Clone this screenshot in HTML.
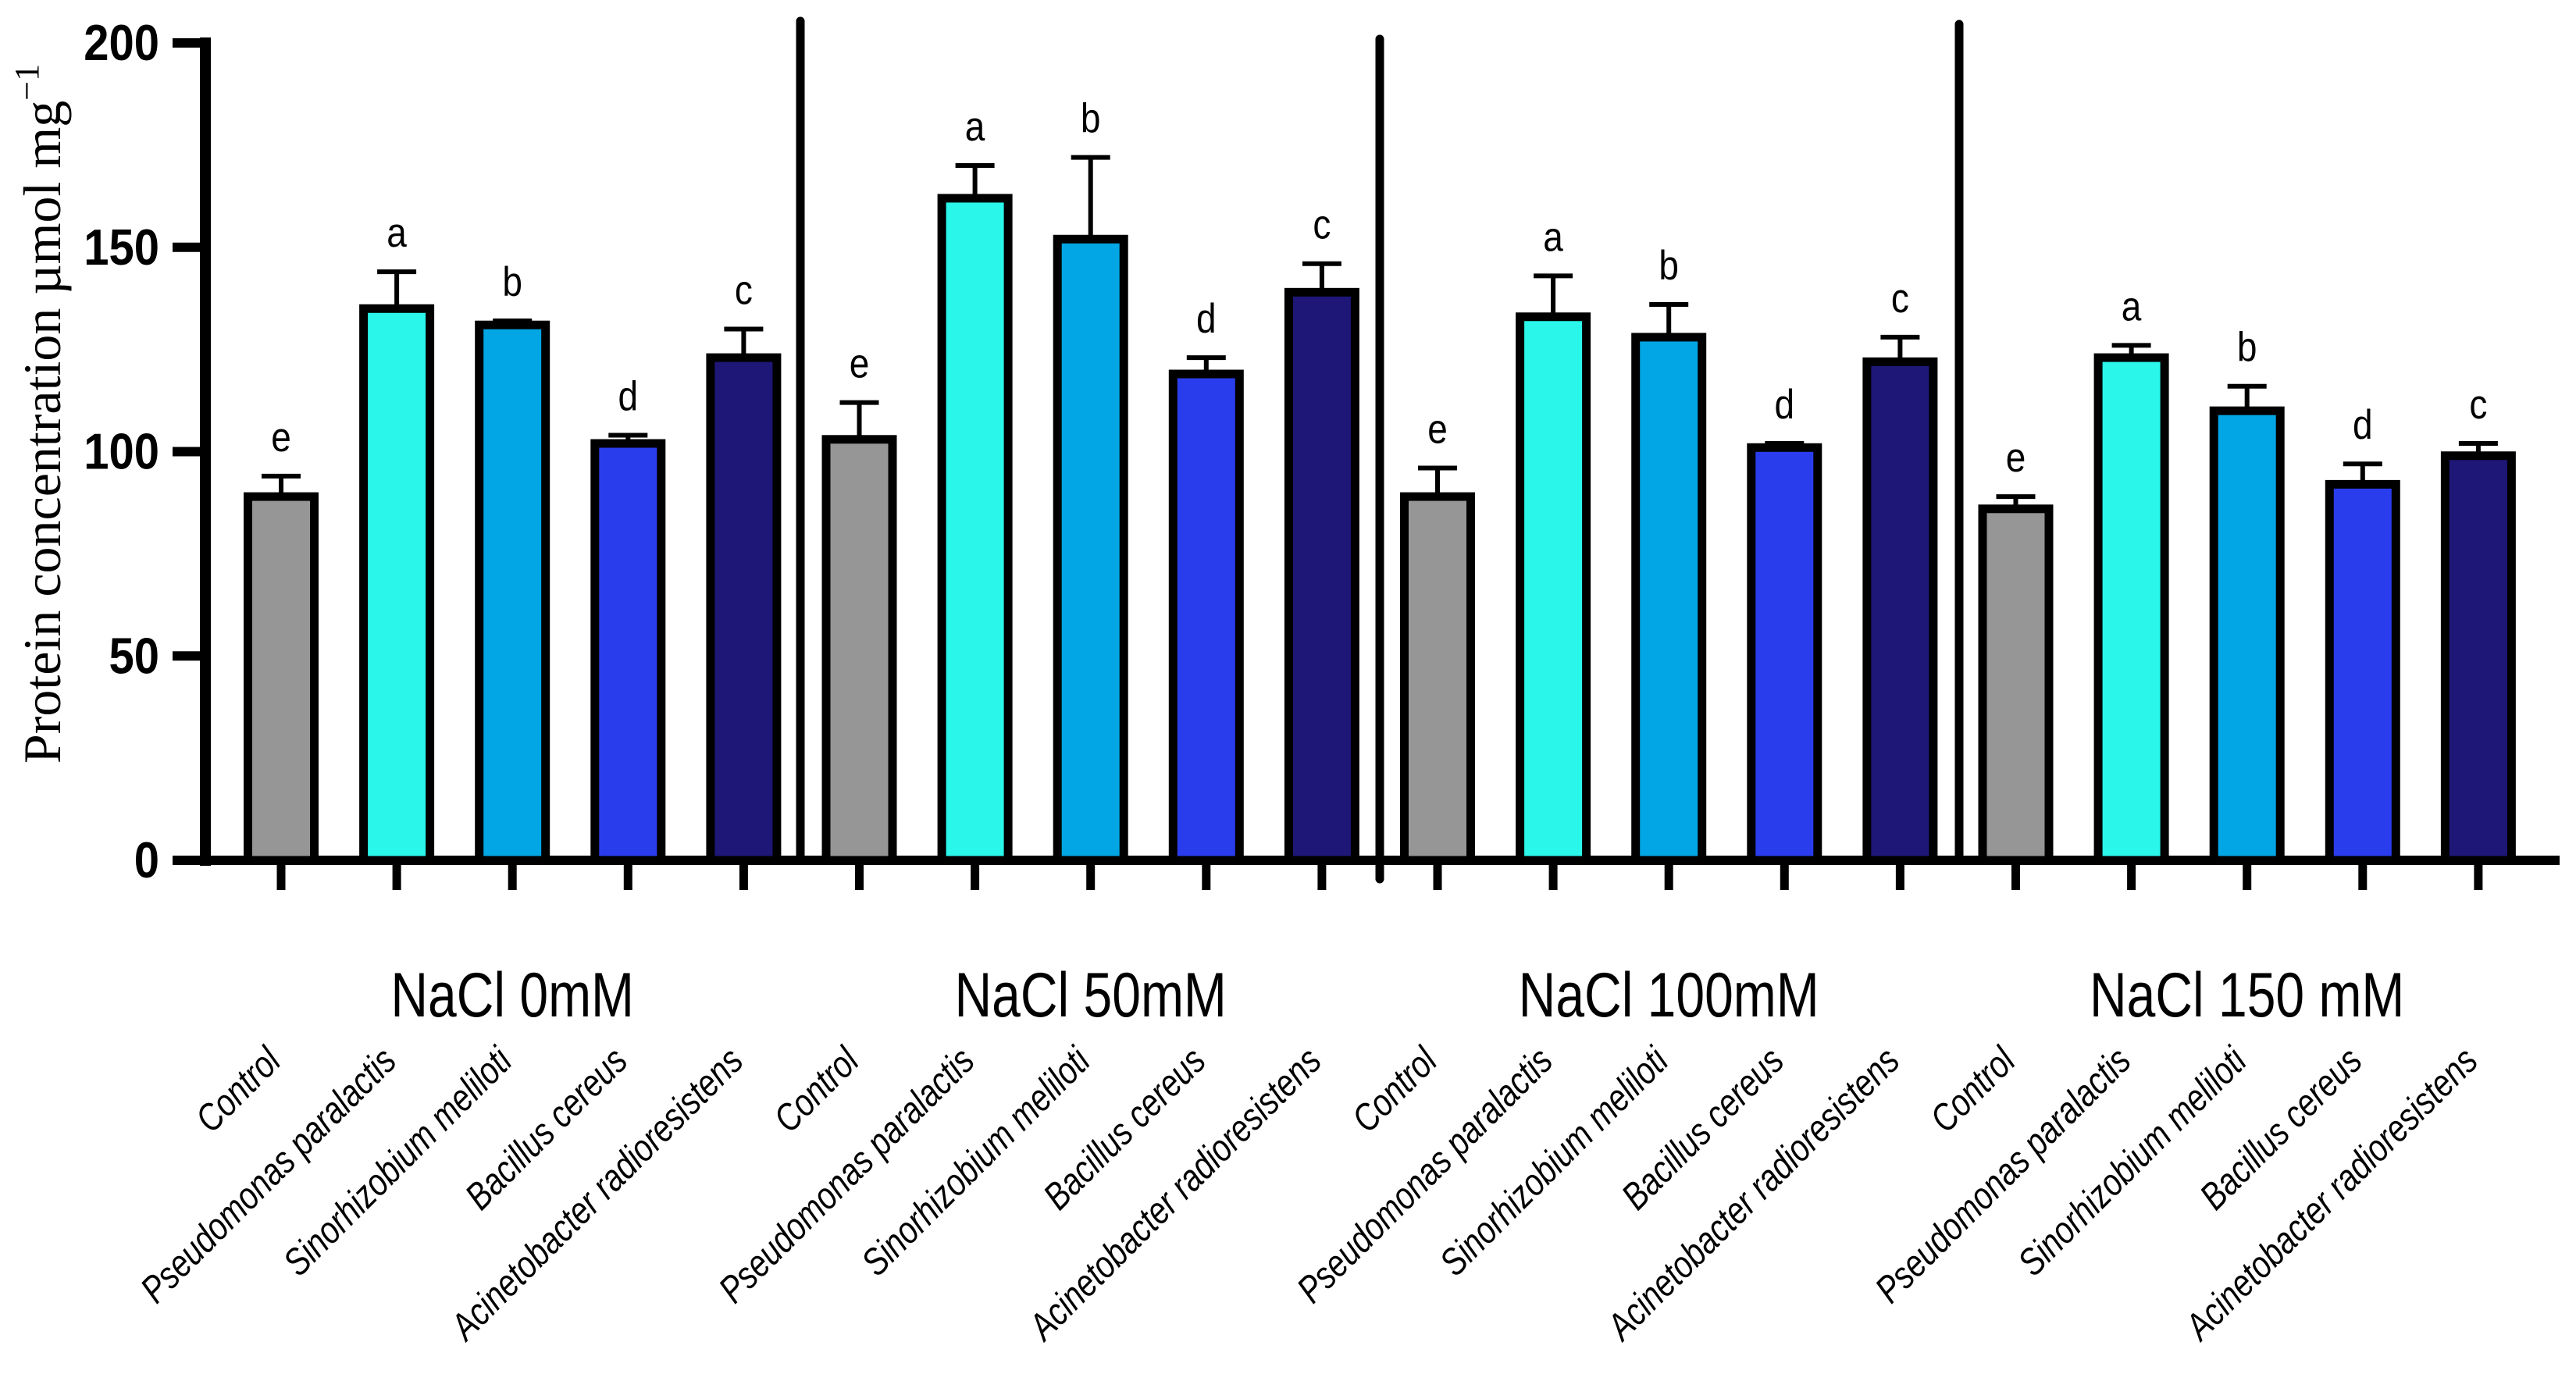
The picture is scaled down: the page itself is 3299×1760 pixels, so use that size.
<!DOCTYPE html>
<html><head><meta charset="utf-8"><style>
html,body{margin:0;padding:0;background:#fff;}
svg{display:block;}
</style></head><body>
<svg id="chart" width="3299" height="1760" viewBox="0 0 3299 1760" xmlns="http://www.w3.org/2000/svg">
<g id="axes"></g>
<g id="bars"></g>
<g id="labels"></g>
</svg>
<script>
const groups = ["NaCl 0mM", "NaCl 50mM", "NaCl 100mM", "NaCl 150 mM"];
const treatments = ["Control", "Pseudomonas paralactis", "Sinorhizobium meliloti", "Bacillus cereus", "Acinetobacter radioresistens"];
const means = [89, 135, 131, 102, 123,  103, 162, 152, 119, 139,  89, 133, 128, 101, 122,  86, 123, 110, 92, 99];
const errTops = [94, 144, 132, 104, 130,  112, 170, 172, 123, 146,  96, 143, 136, 102, 128,  89, 126, 116, 97, 102];
const letters = ["e","a","b","d","c", "e","a","b","d","c", "e","a","b","d","c", "e","a","b","d","c"];
const yTicks = [0, 50, 100, 150, 200];
const colors = ["#969696", "#2af6ea", "#02a6e4", "#2a3ded", "#1e1777"];

const NS = "http://www.w3.org/2000/svg";
const x0 = 263, yBase = 1102, yTop = 55, yMax = 200;
const firstC = 360, step = 148.1, barW = 85;
function y(v){ return yBase - (v / yMax) * (yBase - yTop); }
function xc(i){ return firstC + i * step; }
function mk(tag, attrs, parent, text){
  const e = document.createElementNS(NS, tag);
  for (const k in attrs) e.setAttribute(k, attrs[k]);
  if (text !== undefined) e.textContent = text;
  parent.appendChild(e); return e;
}
const axes = document.getElementById('axes');
const barsG = document.getElementById('bars');
const labelsG = document.getElementById('labels');

let el = mk('line', {x1:x0, y1:y(200)-7, x2:x0, y2:yBase+7, stroke:'#000','stroke-width':14}, axes);


yTicks.forEach(t => {
  const tk = mk('line', {x1:221, y1:y(t), x2:x0, y2:y(t), stroke:'#000','stroke-width':12}, axes);
  
  
  const tl = mk('text', {transform:'translate(204,' + (y(t)+22) + ') scale(1,1.12)', 'text-anchor':'end', 'font-family':'Liberation Sans, sans-serif', 'font-weight':'bold', 'font-size':58}, axes, String(t));
  
  
});
el = mk('line', {x1:x0-7, y1:yBase, x2:3278, y2:yBase, stroke:'#000','stroke-width':12}, axes);



el = mk('text', {transform:'translate(77,530) rotate(-90)', 'text-anchor':'middle', 'font-family':'Liberation Serif, serif', 'font-size':68}, axes);


el.appendChild(document.createTextNode('Protein concentration µmol mg'));
mk('tspan', {'font-size':44, dy:-28}, el, '−1');

const divX = [1025, 1767, 2509];
const divTop = [27, 50, 31];
const divBot = [1102, 1126, 1098];
divX.forEach((dx, k) => {
  const d = mk('line', {x1:dx, y1:divTop[k], x2:dx, y2:divBot[k], stroke:'#000','stroke-width':11,'stroke-linecap':'round'}, axes);
  
  
});

means.forEach((v, i) => {
  const cx = xc(i);
  const col = colors[i % 5];
  const top = y(v);
  const eb = mk('line', {x1:cx, y1:y(errTops[i]), x2:cx, y2:top, stroke:'#000','stroke-width':6}, barsG);
  
  
  const cap = mk('line', {x1:cx-25, y1:y(errTops[i]), x2:cx+25, y2:y(errTops[i]), stroke:'#000','stroke-width':6}, barsG);
  
  
  const r = mk('rect', {x:cx-barW/2, y:top, width:barW, height:yBase-top, fill:col, stroke:'#000','stroke-width':11}, barsG);
  
  
  const lt = mk('text', {transform:'translate(' + cx + ',' + (y(errTops[i])-32) + ') scale(1,1.15)', 'text-anchor':'middle', 'font-family':'Liberation Sans, sans-serif', 'font-size':46}, labelsG, letters[i]);
  
  
  const tk = mk('line', {x1:cx, y1:yBase, x2:cx, y2:1140, stroke:'#000','stroke-width':11}, axes);
  
  
  const xl = mk('text', {transform:'translate(' + (cx + 2) + ',1362) rotate(-45) scale(1,1.22)', 'text-anchor':'end', 'font-family':'Liberation Sans, sans-serif', 'font-style':'italic', 'font-size':40}, labelsG, treatments[i % 5]);
  
  
});

groups.forEach((g, k) => {
  const gx = xc(k * 5 + 2);
  const gt = mk('text', {transform:'translate(' + gx + ',1302) scale(1,1.22)', 'text-anchor':'middle', 'font-family':'Liberation Sans, sans-serif', 'font-size':66}, labelsG, g);
  
  
});
</script>
</body></html>
